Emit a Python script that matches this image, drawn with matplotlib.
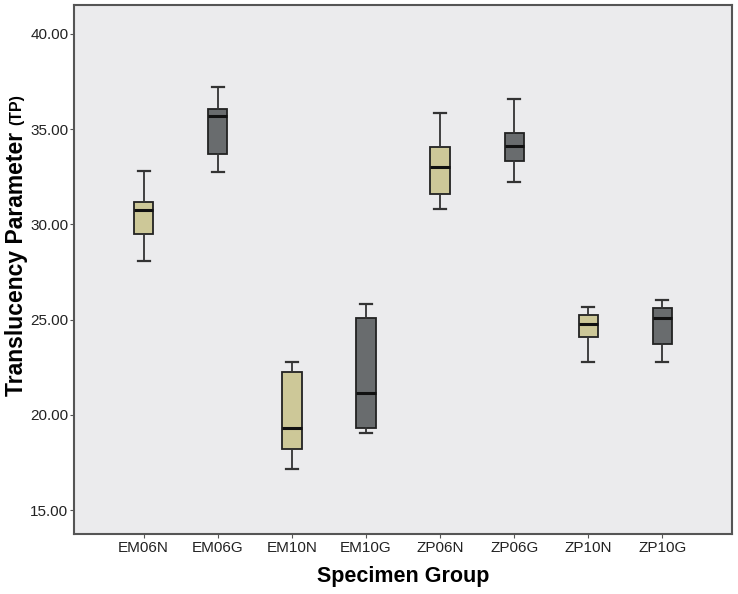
import matplotlib
matplotlib.use("Agg")
import matplotlib.pyplot as plt

# summary statistics (whisker low, q1, median, q3, whisker high)
groups = ["EM06N", "EM06G", "EM10N", "EM10G", "ZP06N", "ZP06G", "ZP10N", "ZP10G"]
whislo = [28.09, 32.74, 17.15, 19.04, 30.83, 32.24, 22.76, 22.79]
q1 = [29.50, 33.68, 18.19, 19.29, 31.60, 33.35, 24.09, 23.72]
med = [30.77, 35.68, 19.29, 21.16, 33.00, 34.14, 24.77, 25.08]
q3 = [31.19, 36.04, 22.23, 25.10, 34.07, 34.78, 25.22, 25.63]
whishi = [32.82, 37.22, 22.79, 25.82, 35.83, 36.59, 25.68, 26.03]
yticks = [15, 20, 25, 30, 35, 40]

tan = "#cdc898"
dark = "#696c6e"

plt.rcParams["font.family"] = ["Liberation Sans", "DejaVu Sans"]

fig = plt.figure(figsize=(7.38, 5.94), dpi=100)
ax = fig.add_axes([0.1003, 0.101, 0.8916, 0.8906])
ax.set_facecolor("#ebebed")

stats = []
for i, g in enumerate(groups):
    stats.append(dict(label=g, whislo=whislo[i], q1=q1[i], med=med[i],
                      q3=q3[i], whishi=whishi[i], fliers=[]))

bp = ax.bxp(stats, positions=range(1, len(groups) + 1), widths=0.26,
            patch_artist=True, showfliers=False,
            boxprops=dict(edgecolor="#222222", linewidth=1.3),
            medianprops=dict(color="#111111", linewidth=2.2),
            whiskerprops=dict(color="#333333", linewidth=1.3),
            capprops=dict(color="#333333", linewidth=1.6),
            capwidths=0.16)
for i, box in enumerate(bp["boxes"]):
    box.set_facecolor(tan if i % 2 == 0 else dark)

ax.set_xlim(0.06, 8.94)
ax.set_ylim(13.74, 41.52)
ax.set_yticks(yticks)
ax.set_yticklabels(["%.2f" % v for v in yticks])
ax.tick_params(axis="both", direction="out", length=3, width=0.8, pad=2,
               color="#555555", labelsize=11, labelcolor="#222222")
ax.tick_params(axis="y", pad=1)
for s in ax.spines.values():
    s.set_color("#555555")
    s.set_linewidth(1.5)

ax.set_xlabel("Specimen Group", fontsize=15.5, fontweight="bold", labelpad=8)
fig.text(0.023, 0.555, "Translucency Parameter", rotation=90, fontsize=16.5,
         fontweight="bold", ha="center", va="center")
fig.text(0.023, 0.815, "(TP)", rotation=90, fontsize=11.5,
         fontweight="bold", ha="center", va="center")

fig.savefig("out.png", dpi=100)
